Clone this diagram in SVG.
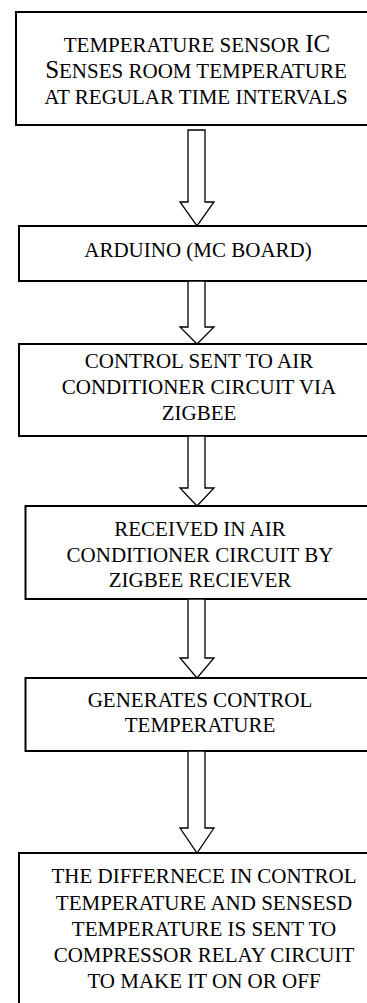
<svg xmlns="http://www.w3.org/2000/svg" width="367" height="1003" viewBox="0 0 367 1003">
<style>
.box{fill:#fff;stroke:#000;stroke-width:2}
.arr{fill:#fff;stroke:#000;stroke-width:1.3;stroke-linejoin:miter}
.t{font-family:"Liberation Serif","Times New Roman","DejaVu Serif",serif;font-size:21px;fill:#000;text-anchor:middle}
.big{font-size:25px}
</style>
<rect width="367" height="1003" fill="#fff"/>
<g id="n1">
<rect class="box" x="16" y="12" width="380" height="113"/>
<text class="t" x="197" y="52">TEMPERATURE SENSOR <tspan class="big">IC</tspan></text>
<text class="t" x="196" y="78"><tspan class="big">S</tspan>ENSES ROOM TEMPERATURE</text>
<text class="t" x="196" y="104">AT REGULAR TIME INTERVALS</text>
</g>
<g id="n2">
<rect class="box" x="19" y="226" width="380" height="55"/>
<text class="t" x="198" y="257">ARDUINO (MC BOARD)</text>
</g>
<g id="n3">
<rect class="box" x="19" y="344" width="380" height="92"/>
<text class="t" x="199" y="368">CONTROL SENT TO AIR</text>
<text class="t" x="199" y="394">CONDITIONER CIRCUIT VIA</text>
<text class="t" x="199" y="420">ZIGBEE</text>
</g>
<g id="n4">
<rect class="box" x="25.5" y="506" width="380" height="93"/>
<text class="t" x="200" y="536">RECEIVED IN AIR</text>
<text class="t" x="200" y="562">CONDITIONER CIRCUIT BY</text>
<text class="t" x="200" y="587">ZIGBEE RECIEVER</text>
</g>
<g id="n5">
<rect class="box" x="25.5" y="678" width="380" height="73"/>
<text class="t" x="200" y="707">GENERATES CONTROL</text>
<text class="t" x="200" y="732">TEMPERATURE</text>
</g>
<g id="n6">
<rect class="box" x="19" y="853" width="380" height="170"/>
<text class="t" x="204" y="883">THE DIFFERNECE IN CONTROL</text>
<text class="t" x="204" y="910">TEMPERATURE AND SENSESD</text>
<text class="t" x="204" y="936">TEMPERATURE IS SENT TO</text>
<text class="t" x="204" y="962">COMPRESSOR RELAY CIRCUIT</text>
<text class="t" x="204" y="988">TO MAKE IT ON OR OFF</text>
</g>
<g id="connectors">
<polygon class="arr" points="188,130 205,130 205,202 214,202 197,226 180,202 188,202"/>
<polygon class="arr" points="188,281 205,281 205,327 214,327 197,344 180,327 188,327"/>
<polygon class="arr" points="188,436 205,436 205,488 214,488 197,506 180,488 188,488"/>
<polygon class="arr" points="188,599 205,599 205,658 214,658 197,678 180,658 188,658"/>
<polygon class="arr" points="188,751 205,751 205,828 214,828 197,853 180,828 188,828"/>
</g>
</svg>
